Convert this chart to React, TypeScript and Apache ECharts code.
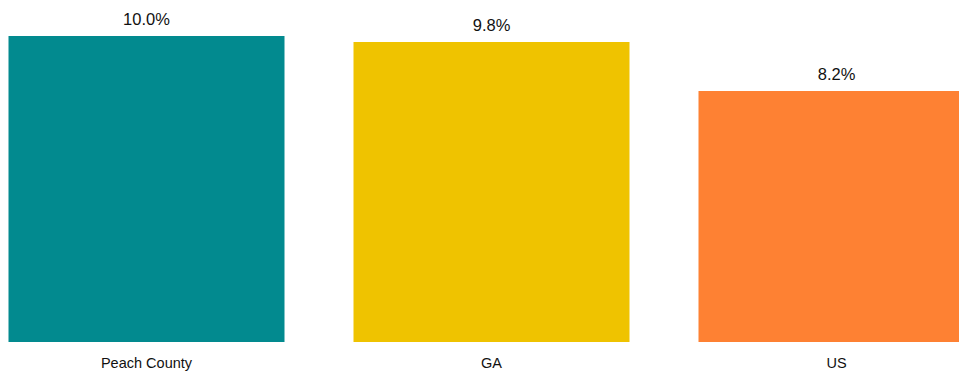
import React, { useEffect, useRef } from "react";
import * as echarts from "echarts";

const categories = ["Peach County", "GA", "US"];
const values = [10.0, 9.8, 8.2];
const colors = ["#028A8F", "#EFC300", "#FE8133"];

export default function App() {
  const ref = useRef<HTMLDivElement>(null);
  useEffect(() => {
    if (!ref.current) return;
    const chart = echarts.init(ref.current, undefined, { renderer: "svg" });
    chart.setOption({
      animation: false,
      grid: { left: 0, right: 0, top: 28, bottom: 31, containLabel: false },
      xAxis: {
        type: "category",
        data: categories,
        axisLine: { show: false },
        axisTick: { show: false },
        axisLabel: {
          color: "#111",
          fontSize: 14.5,
          fontFamily: "Liberation Sans, Arial, sans-serif",
          margin: 13,
        },
      },
      yAxis: {
        type: "value",
        min: 0,
        max: 10,
        show: false,
        splitLine: { show: false },
      },
      series: [
        {
          type: "bar",
          barWidth: "80%",
          data: values.map((v, i) => ({ value: v, itemStyle: { color: colors[i] } })),
          label: {
            show: true,
            position: "top",
            distance: 9,
            color: "#111",
            fontSize: 16.5,
            fontFamily: "Liberation Sans, Arial, sans-serif",
            formatter: (p: any) => p.value.toFixed(1) + "%",
          },
        },
      ],
    });
    return () => chart.dispose();
  }, []);
  return (
    <div style={{ width: "100%", height: 365, overflow: "hidden", position: "relative" }}>
      <div
        ref={ref}
        style={{ position: "absolute", left: -34.5, top: 0, width: 1035, height: 365 }}
      />
    </div>
  );
}
